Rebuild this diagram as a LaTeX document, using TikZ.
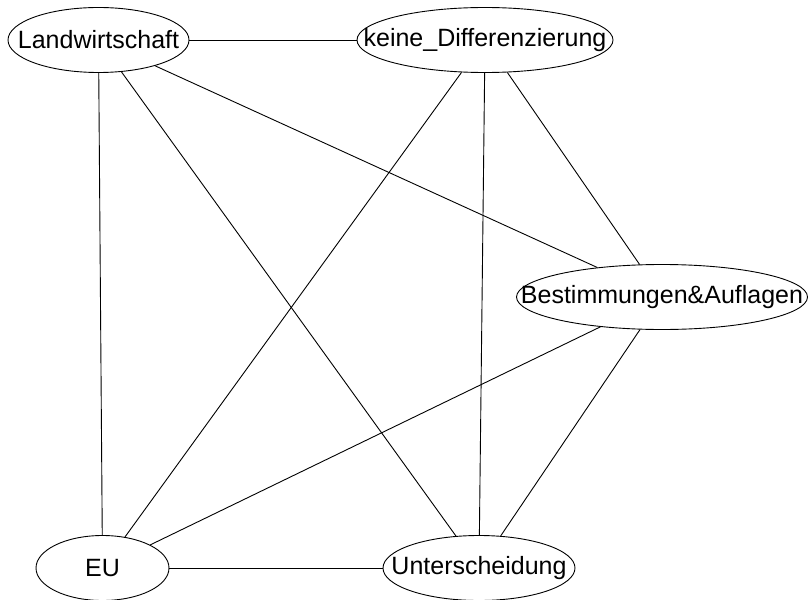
\documentclass[tikz,border=0pt]{standalone}
\usepackage{fontspec}
\setmainfont{Liberation Sans}
\usetikzlibrary{shapes.geometric}

\begin{document}
\begin{tikzpicture}[x=1pt, y=-1pt, line width=0.9pt,
  topic/.style={draw, ellipse, inner sep=0pt, minimum height=65pt,
    font=\fontsize{25}{29}\selectfont}]
  \useasboundingbox (0,0) rectangle (810,599);
  \node[topic, minimum width=181pt] (L) at (98.5,40)  {\makebox[0pt]{Landwirtschaft}};
  \node[topic, minimum width=256pt] (K) at (485,40)   {\makebox[0pt]{keine\_Differenzierung}};
  \node[topic, minimum width=291pt] (B) at (662,297)  {\makebox[0pt]{Bestimmungen\&Auflagen}};
  \node[topic, minimum width=133pt] (E) at (102.5,568) {\makebox[0pt]{EU}};
  \node[topic, minimum width=192pt] (U) at (479,568)   {\makebox[0pt]{Unterscheidung}};
  \path (L) edge (K)
            edge (B)
            edge (E)
            edge (U)
        (K) edge (B)
            edge (E)
            edge (U)
        (B) edge (E)
            edge (U)
        (E) edge (U);
\end{tikzpicture}
\end{document}
